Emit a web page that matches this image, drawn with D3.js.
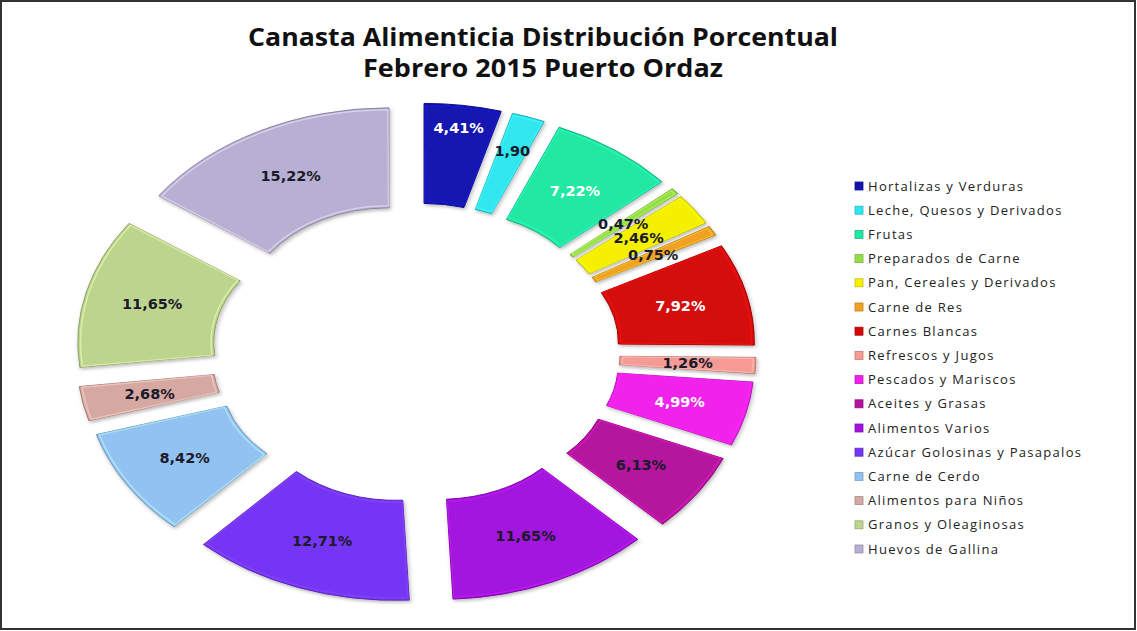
<!DOCTYPE html>
<html>
<head>
<meta charset="utf-8">
<script src="https://cdn.jsdelivr.net/npm/d3@7"></script>
<style>
  body { margin: 0; background: #fff; }
  svg { display: block; }
</style>
</head>
<body>
<div id="chart"></div>
<script>
// Categories, values (%) and colours
const categories = [
    "Hortalizas y Verduras", "Leche, Quesos y Derivados", "Frutas", "Preparados de Carne",
    "Pan, Cereales y Derivados", "Carne de Res", "Carnes Blancas", "Refrescos y Jugos",
    "Pescados y Mariscos", "Aceites y Grasas", "Alimentos Varios", "Azúcar Golosinas y Pasapalos",
    "Carne de Cerdo", "Alimentos para Niños", "Granos y Oleaginosas", "Huevos de Gallina"
];
const values = [4.41, 1.90, 7.22, 0.47, 2.46, 0.75, 7.92, 1.26, 4.99, 6.13, 11.65, 12.71, 8.42, 2.68, 11.65, 15.22];
const labels = ["4,41%", "1,90", "7,22%", "0,47%", "2,46%", "0,75%", "7,92%", "1,26%",
    "4,99%", "6,13%", "11,65%", "12,71%", "8,42%", "2,68%", "11,65%", "15,22%"];
const colors = ["#1212b0", "#30e6f0", "#20e8a2", "#92de48", "#f4f000", "#f0a020", "#d40808", "#f59a94",
    "#f020ec", "#b4129e", "#a212de", "#7436f4", "#92c2f2", "#d6a8a2", "#bcd48e", "#b8b0d2"];
const whiteLabels = ["Hortalizas y Verduras", "Frutas", "Carnes Blancas", "Pescados y Mariscos"];

// Labels that were pulled outward in the original (extra radius)
const labelNudge = {"Hortalizas y Verduras": 27, "Leche, Quesos y Derivados": 14};

const width = 1137, height = 631;
const cx = 416, cy = 353;           // doughnut centre
const sx = 1.36;                    // horizontal stretch of the original picture
const inner = 107, outer = 207, explode = 43;

const svg = d3.select("#chart")
    .append("svg")
    .attr("width", width)
    .attr("height", height);

// soft shadow like the bevelled excel slices
const defs = svg.append("defs");
const shadow = defs.append("filter").attr("id", "shadow")
    .attr("x", "-10%").attr("y", "-10%").attr("width", "130%").attr("height", "130%");
shadow.append("feDropShadow")
    .attr("dx", 1).attr("dy", 2).attr("stdDeviation", 1.5)
    .attr("flood-color", "#000").attr("flood-opacity", 0.25);

// Frame
svg.append("rect")
    .attr("x", 1).attr("y", 1)
    .attr("width", width - 3).attr("height", height - 3)
    .attr("fill", "#fff")
    .attr("stroke", "#333")
    .attr("stroke-width", 2);

// Title
const title = svg.append("text")
    .attr("text-anchor", "middle")
    .style("font-family", "'Open Sans', 'DejaVu Sans', sans-serif")
    .style("font-weight", "bold")
    .style("font-size", "25px")
    .style("fill", "#111");
title.append("tspan").attr("x", 543).attr("y", 46)
    .attr("textLength", 590).attr("lengthAdjust", "spacingAndGlyphs")
    .text("Canasta Alimenticia Distribución Porcentual");
title.append("tspan").attr("x", 543).attr("y", 77)
    .attr("textLength", 360).attr("lengthAdjust", "spacingAndGlyphs")
    .text("Febrero 2015 Puerto Ordaz");

const data = categories.map((c, i) => ({name: c, value: values[i], label: labels[i], color: colors[i]}));

const pie = d3.pie().sort(null).value(d => d.value);
const arc = d3.arc().innerRadius(inner).outerRadius(outer);
const arcs = pie(data);

const ring = svg.append("g")
    .attr("transform", `translate(${cx},${cy}) scale(${sx},1)`);

const slices = ring.selectAll("g.slice")
    .data(arcs)
    .enter().append("g")
    .attr("class", "slice")
    .attr("filter", "url(#shadow)")
    .attr("transform", d => {
        const a = (d.startAngle + d.endAngle) / 2;
        return `translate(${explode * Math.sin(a)},${-explode * Math.cos(a)})`;
    });

slices.append("path")
    .attr("d", arc)
    .attr("fill", d => d.data.color)
    .attr("stroke", d => d3.color(d.data.color).darker(0.8))
    .attr("stroke-width", 1)
    .attr("vector-effect", "non-scaling-stroke");

// light rim along the edges (bevel look)
slices.append("path")
    .attr("d", d3.arc().innerRadius(inner + 2).outerRadius(outer - 2)
        .startAngle(d => d.startAngle + 0.004).endAngle(d => d.endAngle - 0.004))
    .attr("fill", "none")
    .attr("stroke", d => d3.color(d.data.color).brighter(0.7))
    .attr("stroke-opacity", 0.6)
    .attr("stroke-width", 1.5)
    .attr("vector-effect", "non-scaling-stroke");

// Data labels at the centroid of each exploded slice
const labelPos = d => {
    const a = (d.startAngle + d.endAngle) / 2;
    const r = (inner + outer) / 2 + explode + (labelNudge[d.data.name] || 0);
    return [cx + sx * r * Math.sin(a), cy - r * Math.cos(a)];
};

svg.selectAll("text.val")
    .data(arcs)
    .enter().append("text")
    .attr("class", "val")
    .attr("x", d => labelPos(d)[0])
    .attr("y", d => labelPos(d)[1])
    .attr("dy", "0.35em")
    .attr("text-anchor", "middle")
    .style("font-family", "'DejaVu Sans', sans-serif")
    .style("font-weight", "bold")
    .style("font-size", "14.5px")
    .style("fill", d => whiteLabels.includes(d.data.name) ? "#fff" : "#1a1a2a")
    .text(d => d.data.label);

// Legend
const legend = svg.append("g")
    .attr("transform", "translate(855, 186)");

categories.forEach((c, i) => {
    const row = legend.append("g")
        .attr("transform", `translate(0, ${i * 24.2})`);

    row.append("rect")
        .attr("x", 0)
        .attr("y", -4)
        .attr("width", 8)
        .attr("height", 8)
        .attr("fill", colors[i])
        .attr("stroke", d3.color(colors[i]).darker(0.6))
        .attr("stroke-width", 0.8);

    row.append("text")
        .attr("x", 13)
        .attr("y", 4.5)
        .style("font-family", "'Open Sans', sans-serif")
        .style("font-size", "13px")
        .style("letter-spacing", "1.3px")
        .style("fill", "#222")
        .text(c);
});
</script>
</body>
</html>
